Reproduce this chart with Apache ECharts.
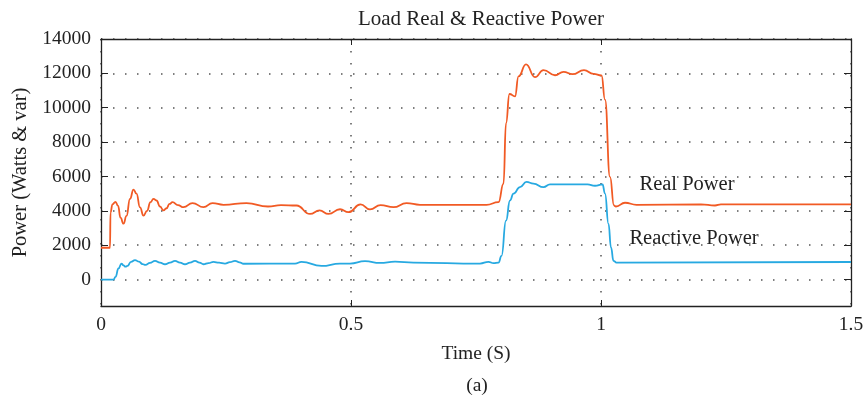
<!DOCTYPE html>
<html>
<head>
<meta charset="utf-8">
<title>Load Real &amp; Reactive Power</title>
<script src="https://cdn.jsdelivr.net/npm/echarts@6/dist/echarts.min.js"></script>
<style>
  html, body { margin: 0; padding: 0; background: #fff; }
  #chart { width: 865px; height: 405px; }
</style>
</head>
<body>
<div id="chart"></div>
<script>
// Time samples (s) and load real power (W)
const realTime = [0, 0.018, 0.019, 0.023, 0.029, 0.034, 0.039, 0.045, 0.051, 0.058, 0.065, 0.071, 0.078, 0.085, 0.092, 0.099, 0.105, 0.111, 0.118, 0.125, 0.131, 0.137, 0.143, 0.154, 0.165, 0.183, 0.205, 0.223, 0.245, 0.291, 0.334, 0.36, 0.391, 0.418, 0.437, 0.455, 0.478, 0.495, 0.519, 0.538, 0.559, 0.585, 0.611, 0.638, 0.771, 0.795, 0.805, 0.81, 0.817, 0.828, 0.835, 0.85, 0.868, 0.885, 0.908, 0.925, 0.943, 0.966, 0.985, 1.001, 1.008, 1.018, 1.026, 1.03, 1.048, 1.071, 1.2, 1.228, 1.24, 1.5];
const realPower = [1850, 1850, 3900, 4380, 4520, 4300, 3600, 3250, 3700, 4700, 5230, 5000, 4200, 3720, 4000, 4500, 4700, 4600, 4250, 4020, 4150, 4400, 4500, 4330, 4210, 4450, 4210, 4450, 4350, 4450, 4250, 4330, 4310, 3820, 4020, 3820, 4090, 3920, 4370, 4080, 4330, 4210, 4450, 4350, 4350, 4500, 5580, 9100, 10800, 10660, 11830, 12520, 11780, 12190, 11890, 12090, 11950, 12190, 11970, 11880, 10470, 5970, 4310, 4250, 4470, 4350, 4370, 4310, 4370, 4370];

// Time samples (s) and load reactive power (var)
const reactiveTime = [0, 0.025, 0.029, 0.035, 0.041, 0.045, 0.049, 0.053, 0.06, 0.068, 0.076, 0.083, 0.089, 0.098, 0.108, 0.118, 0.128, 0.138, 0.148, 0.158, 0.168, 0.178, 0.188, 0.197, 0.205, 0.215, 0.225, 0.236, 0.248, 0.258, 0.268, 0.277, 0.285, 0.388, 0.401, 0.441, 0.478, 0.498, 0.528, 0.558, 0.588, 0.625, 0.758, 0.775, 0.785, 0.795, 0.801, 0.81, 0.818, 0.825, 0.838, 0.851, 0.865, 0.885, 0.898, 0.973, 0.988, 1.003, 1.008, 1.015, 1.02, 1.025, 1.031, 1.5];
const reactivePower = [0, 0, 150, 650, 930, 820, 750, 800, 1030, 1130, 1040, 900, 850, 970, 1090, 990, 890, 990, 1090, 990, 890, 990, 1090, 990, 890, 960, 1030, 980, 930, 1010, 1090, 1000, 920, 930, 1030, 790, 930, 930, 1070, 970, 1040, 990, 930, 1030, 950, 990, 1380, 3430, 4600, 5000, 5380, 5680, 5580, 5380, 5540, 5540, 5460, 5540, 5000, 3240, 1870, 1090, 990, 1020];

// Axis ticks
const timeTicks = [0, 0.5, 1, 1.5];
const powerTicks = [0, 2000, 4000, 6000, 8000, 10000, 12000, 14000];

const FONT = 'Liberation Serif';
const INK = '#222';
const RED = '#F15A24';
const BLUE = '#27A9E1';

const pairs = (xs, ys) => xs.map((x, i) => [x, ys[i]]);

const chart = echarts.init(document.getElementById('chart'), null, { renderer: 'canvas' });

const dotted = { color: '#555', width: 1.5, type: [1.5, 10.5] };

const option = {
  animation: false,
  backgroundColor: '#fff',
  grid: { left: 101, right: 14, top: 39, bottom: 99, containLabel: false, outerBoundsMode: 'none' },
  xAxis: [
    {
      type: 'value', position: 'bottom',
      min: 0, max: 1.5, interval: 0.5,
      name: 'Time (S)', nameLocation: 'middle', nameGap: 38,
      nameTextStyle: { fontFamily: FONT, fontSize: 19.5, color: INK },
      axisLine: { show: true, onZero: false, lineStyle: { color: INK, width: 1.3 } },
      axisTick: { show: true, inside: true, length: 6, lineStyle: { color: INK } },
      axisLabel: {
        margin: 9, fontFamily: FONT, fontSize: 19.5, color: INK,
        customValues: timeTicks,
        formatter: v => String(+v.toFixed(2))
      },
      splitLine: { show: true, lineStyle: dotted }
    },
    {
      type: 'value', position: 'top',
      min: 0, max: 1.5, interval: 0.5,
      axisLine: { show: true, onZero: false, lineStyle: { color: INK, width: 1.3 } },
      axisTick: { show: true, inside: true, length: 6, lineStyle: { color: INK } },
      axisLabel: { show: false },
      splitLine: { show: false }
    }
  ],
  yAxis: [
    {
      type: 'value', position: 'left',
      min: -1540, max: 14000,
      name: 'Power (Watts & var)', nameLocation: 'middle', nameGap: 70,
      nameTextStyle: { fontFamily: FONT, fontSize: 20.5, color: INK },
      axisLine: { show: true, onZero: false, lineStyle: { color: INK, width: 1.3 } },
      axisTick: { show: true, inside: true, length: 7, customValues: powerTicks, lineStyle: { color: INK } },
      axisLabel: {
        margin: 10, fontFamily: FONT, fontSize: 19.5, color: INK,
        customValues: powerTicks,
        formatter: v => String(Math.round(v))
      },
      splitLine: { show: true, lineStyle: dotted }
    },
    {
      type: 'value', position: 'right',
      min: -1540, max: 14000,
      axisLine: { show: true, onZero: false, lineStyle: { color: INK, width: 1.3 } },
      axisTick: { show: true, inside: true, length: 7, customValues: powerTicks, lineStyle: { color: INK } },
      axisLabel: { show: false, customValues: powerTicks },
      splitLine: { show: false }
    }
  ],
  series: [
    {
      name: 'Real Power', type: 'line',
      data: pairs(realTime, realPower),
      showSymbol: false, smooth: 0.5, smoothMonotone: 'x',
      lineStyle: { color: RED, width: 1.8 }, itemStyle: { color: RED },
      z: 3
    },
    {
      name: 'Reactive Power', type: 'line',
      data: pairs(reactiveTime, reactivePower),
      showSymbol: false, smooth: 0.5, smoothMonotone: 'x',
      lineStyle: { color: BLUE, width: 1.8 }, itemStyle: { color: BLUE },
      z: 3
    }
  ]
};

chart.setOption(option);

// Title, curve annotations and panel caption
const realLabelAt = chart.convertToPixel({ xAxisIndex: 0, yAxisIndex: 0 }, [1.172, 5500]);
const reactiveLabelAt = chart.convertToPixel({ xAxisIndex: 0, yAxisIndex: 0 }, [1.186, 2410]);

const txt = (x, y, text, size) => ({
  type: 'text', x, y,
  style: { text, fontFamily: FONT, fontSize: size, fill: INK, align: 'center', verticalAlign: 'middle' }
});

chart.setOption({
  graphic: [
    txt(481, 19, 'Load Real & Reactive Power', 21),
    txt(realLabelAt[0], realLabelAt[1], 'Real Power', 20.5),
    txt(reactiveLabelAt[0], reactiveLabelAt[1], 'Reactive Power', 20.5),
    txt(477, 386, '(a)', 19.5)
  ]
});
</script>
</body>
</html>
